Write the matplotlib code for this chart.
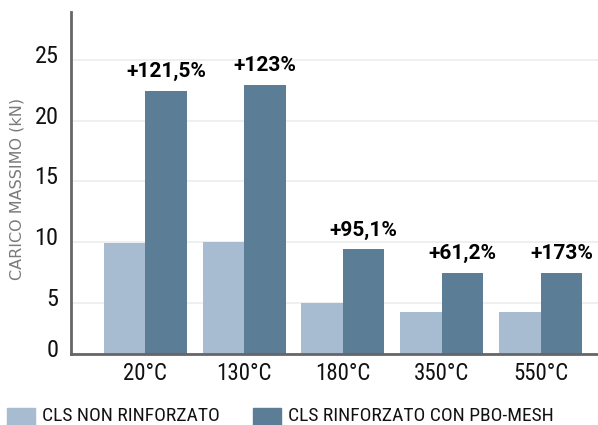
import numpy as np
import matplotlib
matplotlib.use("Agg")
import matplotlib.pyplot as plt
import matplotlib.transforms as mtransforms
from matplotlib.patches import Rectangle

# dati
temperature = ["20°C", "130°C", "180°C", "350°C", "550°C"]
non_rinforzato = [9.9, 10.0, 5.0, 4.2, 4.2]
rinforzato = [22.5, 23.0, 9.4, 7.45, 7.45]
incrementi = ["+121,5%", "+123%", "+95,1%", "+61,2%", "+173%"]
serie = ["CLS NON RINFORZATO", "CLS RINFORZATO CON PBO-MESH"]

COL_CHIARO = "#a7bbd1"
COL_SCURO = "#5b7d96"

plt.rcParams['font.family'] = ['Roboto Condensed', 'DejaVu Sans']

W, H = 598, 425
fig = plt.figure(figsize=(W / 100, H / 100), dpi=100)
ax = fig.add_axes([71 / W, 1 - 354 / H, 1 - 71 / W, (354 - 12) / H])

x = np.arange(len(temperature))
w = 0.42
ax.bar(x - w / 2, non_rinforzato, w, color=COL_CHIARO, zorder=2)
barre = ax.bar(x + w / 2, rinforzato, w, color=COL_SCURO, zorder=2)

for b, testo in zip(barre, incrementi):
    ax.annotate(testo, (b.get_x() + b.get_width() / 2, b.get_height()),
                xytext=(0, 7), textcoords="offset points", ha="center", va="bottom",
                fontsize=15, fontweight="bold", color="black", family=["Roboto", "DejaVu Sans"])

ax.set_xlim(-0.75, 4.58)
ax.set_ylim(0.75, 29)
ax.set_yticks([0.75, 5, 10, 15, 20, 25])
ax.set_yticklabels(["0", "5", "10", "15", "20", "25"])
ax.set_xticks(x)
ax.set_xticklabels(temperature)

ax.grid(axis="y", color="#ececec", linewidth=1.2, zorder=0)
ax.tick_params(axis="y", length=0, labelsize=17.5, pad=9, colors="#111111")
ax.tick_params(axis="x", length=0, labelsize=16.5, pad=6, colors="#111111")
# etichette y leggermente sopra le linee
sposta = mtransforms.ScaledTranslation(0, 6 / 100, fig.dpi_scale_trans)
for lab in ax.get_yticklabels():
    lab.set_transform(lab.get_transform() + sposta)

for lato in ["top", "right"]:
    ax.spines[lato].set_visible(False)
for lato in ["left", "bottom"]:
    ax.spines[lato].set_color("#666666")
    ax.spines[lato].set_linewidth(2)

ax.set_ylabel("CARICO MASSIMO (kN)", fontsize=11.5, color="#7a7a7a", family=["DejaVu Sans"])
ax.yaxis.set_label_coords(-46 / (W - 71), 0.482)

# legenda in basso (i quadrati escono dal bordo come nel riferimento)
for px, testo, col in [(7, serie[0], COL_CHIARO), (253, serie[1], COL_SCURO)]:
    fig.patches.append(Rectangle((px / W, 1 - 436 / H), 28 / W, 28 / H,
                                 transform=fig.transFigure, color=col))
    fig.text((px + 35) / W, 1 - 421 / H, testo, fontsize=14, color="#111111",
             ha="left", va="baseline")

fig.savefig("out.png", dpi=100)
